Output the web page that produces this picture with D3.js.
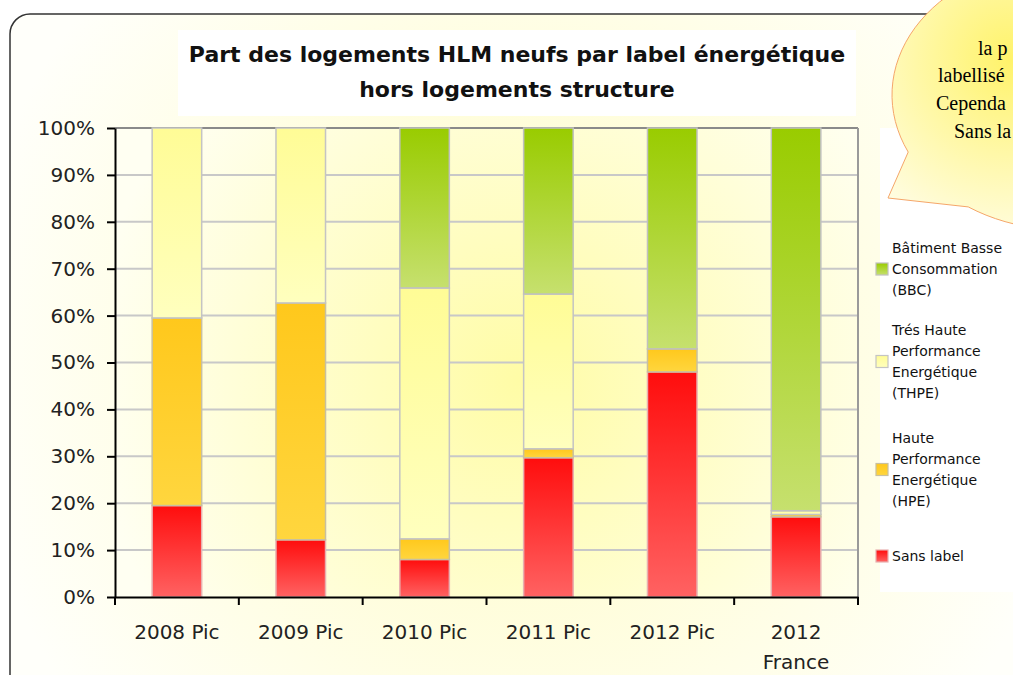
<!DOCTYPE html>
<html>
<head>
<meta charset="utf-8">
<script src="https://cdn.jsdelivr.net/npm/d3@7"></script>
<style>
  body { margin: 0; background: #fff; overflow: hidden; }
  text { font-family: "DejaVu Sans", sans-serif; }
</style>
</head>
<body>
<div class="chart"></div>
<script>
let width = 1013, height = 675;
let plot = {left: 115, right: 858, top: 128, bottom: 597};

// data (percent)
let categories = ["2008 Pic", "2009 Pic", "2010 Pic", "2011 Pic", "2012 Pic", "2012\nFrance"];
let sansLabel = [19.5, 12.2, 8.0, 29.7, 48.0, 17.1];
let hpe       = [40.0, 50.5, 4.4, 1.9, 4.9, 0.5];
let thpe      = [40.5, 37.3, 53.5, 33.0, 0, 0.8];
let bbc       = [0, 0, 34.1, 35.4, 47.1, 81.6];
let yTicks = [0, 10, 20, 30, 40, 50, 60, 70, 80, 90, 100];

let seriesKeys = ["sans", "hpe", "thpe", "bbc"];
let legendItems = [
  {key: "bbc",  lines: ["Bâtiment Basse", "Consommation", "(BBC)"], y: 248},
  {key: "thpe", lines: ["Trés Haute", "Performance", "Energétique", "(THPE)"], y: 330},
  {key: "hpe",  lines: ["Haute", "Performance", "Energétique", "(HPE)"], y: 438},
  {key: "sans", lines: ["Sans label"], y: 556}
];
// only the part of the callout that shows inside the frame
let calloutLines = [
  {t: "la p", x: 978, y: 55},
  {t: "labellisé", x: 938, y: 82},
  {t: "Cependa", x: 936, y: 110},
  {t: "Sans la", x: 954, y: 138}
];

let rows = categories.map((c, i) => ({cat: c, sans: sansLabel[i], hpe: hpe[i], thpe: thpe[i], bbc: bbc[i]}));

const svg = d3.select(".chart").append("svg")
  .attr("width", width).attr("height", height);

const defs = svg.append("defs");
function vgrad(id, top, bottom) {
  const g = defs.append("linearGradient").attr("id", id)
    .attr("x1", 0).attr("y1", 0).attr("x2", 0).attr("y2", 1);
  g.append("stop").attr("offset", "0%").attr("stop-color", top);
  g.append("stop").attr("offset", "100%").attr("stop-color", bottom);
}
vgrad("g-sans", "#ff0d0d", "#ff6262");
vgrad("g-hpe", "#ffc81c", "#ffd63e");
vgrad("g-thpe", "#fffc96", "#ffffbe");
vgrad("g-bbc", "#99cc00", "#c6e06e");

const rg1 = defs.append("radialGradient").attr("id", "g-box")
  .attr("gradientUnits", "userSpaceOnUse").attr("cx", 520).attr("cy", 360).attr("r", 560);
rg1.append("stop").attr("offset", "0%").attr("stop-color", "#fffcc4");
rg1.append("stop").attr("offset", "100%").attr("stop-color", "#fffffa");

const rg2 = defs.append("radialGradient").attr("id", "g-plot")
  .attr("gradientUnits", "userSpaceOnUse").attr("cx", 520).attr("cy", 380).attr("r", 430);
rg2.append("stop").attr("offset", "0%").attr("stop-color", "#fffca6");
rg2.append("stop").attr("offset", "100%").attr("stop-color", "#fffff2");

const rg3 = defs.append("radialGradient").attr("id", "g-bubble")
  .attr("gradientUnits", "userSpaceOnUse").attr("cx", 1010).attr("cy", 60).attr("r", 190);
rg3.append("stop").attr("offset", "0%").attr("stop-color", "#fff36a");
rg3.append("stop").attr("offset", "100%").attr("stop-color", "#fffde6");

const fills = {sans: "url(#g-sans)", hpe: "url(#g-hpe)", thpe: "url(#g-thpe)", bbc: "url(#g-bbc)"};
const strokes = {sans: "#e8b0b0", hpe: "#c8c0a0", thpe: "#c4c4c4", bbc: "#c0c0c0"};

// chart box with rounded corner
svg.append("rect")
  .attr("x", 10).attr("y", 14).attr("width", 1100).attr("height", 800).attr("rx", 20)
  .attr("fill", "url(#g-box)").attr("stroke", "#333").attr("stroke-width", 1.5);

// title box
svg.append("rect").attr("x", 178).attr("y", 30).attr("width", 678).attr("height", 86).attr("fill", "#fff");
const title = svg.append("text").attr("text-anchor", "middle")
  .style("font-weight", "bold").style("font-size", "22px").attr("fill", "#111");
title.append("tspan").attr("x", 517).attr("y", 62).text("Part des logements HLM neufs par label énergétique");
title.append("tspan").attr("x", 517).attr("y", 97).text("hors logements structure");

// legend box
svg.append("rect").attr("x", 880).attr("y", 128).attr("width", 140).attr("height", 464).attr("fill", "#fff");

// plot background
svg.append("rect").attr("x", plot.left).attr("y", plot.top)
  .attr("width", plot.right - plot.left).attr("height", plot.bottom - plot.top)
  .attr("fill", "url(#g-plot)");

let x = d3.scaleBand().domain(categories).range([plot.left, plot.right])
  .paddingInner(0.6).paddingOuter(0.3);
let xb = d3.scaleBand().domain(categories).range([plot.left, plot.right]);
let y = d3.scaleLinear().domain([0, 100]).range([plot.bottom, plot.top]);

// gridlines
svg.append("g").selectAll("line")
  .data(yTicks.filter(d => d > 0))
  .enter().append("line")
  .attr("x1", plot.left).attr("x2", plot.right)
  .attr("y1", d => y(d)).attr("y2", d => y(d))
  .attr("stroke", d => d === 100 ? "#8a8a8a" : "#c8c8c8")
  .attr("stroke-width", 2);
svg.append("line")
  .attr("x1", plot.right).attr("x2", plot.right)
  .attr("y1", plot.top).attr("y2", plot.bottom)
  .attr("stroke", "#9a9a9a").attr("stroke-width", 2);

// stacked bars
let stacked = d3.stack().keys(seriesKeys)(rows);
svg.append("g").selectAll("g")
  .data(stacked)
  .enter().append("g")
  .selectAll("rect")
  .data(s => s.map(d => ({key: s.key, d: d})).filter(o => o.d[1] - o.d[0] > 0))
  .enter().append("rect")
  .attr("x", o => x(o.d.data.cat))
  .attr("y", o => y(o.d[1]))
  .attr("width", x.bandwidth())
  .attr("height", o => y(o.d[0]) - y(o.d[1]))
  .attr("fill", o => fills[o.key])
  .attr("stroke", o => strokes[o.key])
  .attr("stroke-width", 1.5);

// y axis
const yAxis = svg.append("g")
  .attr("transform", "translate(" + plot.left + ",0)")
  .call(d3.axisLeft(y).tickValues(yTicks).tickFormat(d => d + "%").tickSize(8).tickSizeOuter(0).tickPadding(12));
yAxis.select(".domain").attr("stroke", "#000").attr("stroke-width", 2);
yAxis.selectAll(".tick line").attr("stroke", "#000").attr("stroke-width", 2);
yAxis.selectAll(".tick text").style("font-size", "20px").attr("fill", "#222")
  .style("font-family", "DejaVu Sans");

// x axis
const xAxis = svg.append("g")
  .attr("transform", "translate(0," + plot.bottom + ")")
  .call(d3.axisBottom(xb).tickSize(0).tickSizeOuter(0).tickFormat(""));
xAxis.select(".domain").attr("stroke", "#000").attr("stroke-width", 2);
let bounds = categories.map(c => xb(c)).concat([plot.right]);
xAxis.selectAll(".bound").data(bounds).enter().append("line")
  .attr("x1", d => d).attr("x2", d => d).attr("y1", 0).attr("y2", 8)
  .attr("stroke", "#000").attr("stroke-width", 2);
xAxis.selectAll(".xlab").data(categories).enter().append("text")
  .attr("text-anchor", "middle").style("font-size", "20px").attr("fill", "#222")
  .each(function (c) {
    const t = d3.select(this);
    c.split("\n").forEach((line, i) => {
      t.append("tspan").attr("x", xb(c) + xb.bandwidth() / 2).attr("y", 42 + i * 30).text(line);
    });
  });

// legend
const leg = svg.append("g");
legendItems.forEach(item => {
  const n = item.lines.length;
  const midY = item.y + (n - 1) * 21 / 2;
  leg.append("rect").attr("x", 876).attr("y", midY - 6).attr("width", 12).attr("height", 12)
    .attr("fill", fills[item.key]).attr("stroke", strokes[item.key]).attr("stroke-width", 1.2);
  const t = leg.append("text").style("font-size", "14px").attr("fill", "#111");
  item.lines.forEach((l, i) => {
    t.append("tspan").attr("x", 892).attr("y", item.y + i * 21 + 5).text(l);
  });
});

// callout bubble
let cx = 1065, cy = 95, rx = 173, ry = 135;
let pt = a => [cx + rx * Math.cos(a * Math.PI / 180), cy + ry * Math.sin(a * Math.PI / 180)];
let A = pt(155), B = pt(124);
svg.append("path")
  .attr("d", "M" + A + "L888,198L" + B + "A" + rx + "," + ry + " 0 1 0 " + A + "Z")
  .attr("fill", "url(#g-bubble)").attr("stroke", "#f5a66a").attr("stroke-width", 1);
svg.append("g").selectAll("text").data(calloutLines).enter().append("text")
  .attr("x", d => d.x).attr("y", d => d.y)
  .style("font-family", "Liberation Serif, serif").style("font-size", "20px").attr("fill", "#000")
  .text(d => d.t);
</script>
</body>
</html>
